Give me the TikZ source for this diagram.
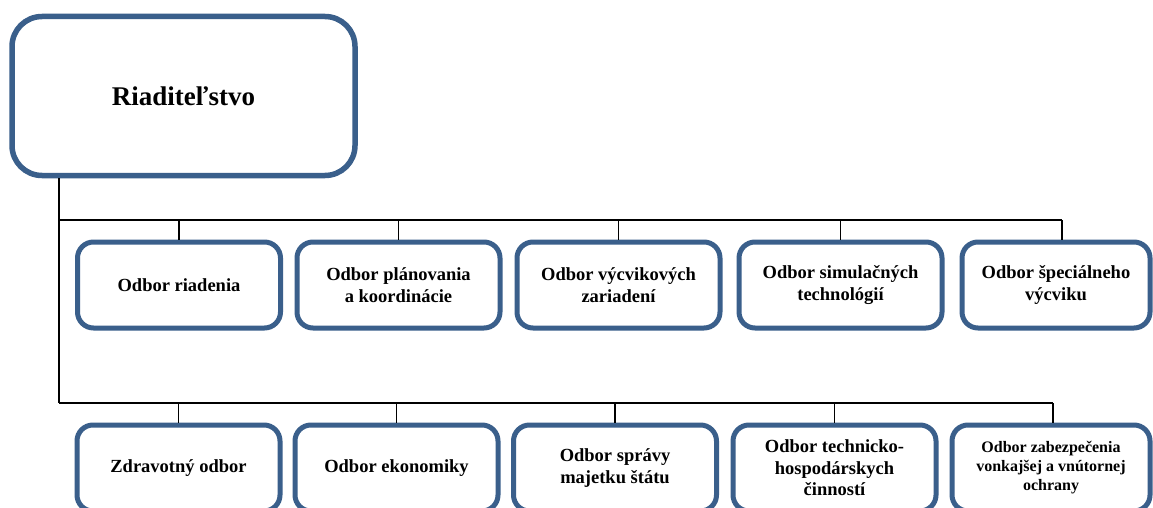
\documentclass[tikz,border=0pt]{standalone}
\usepackage{fontspec}
\setmainfont{Liberation Serif}
\definecolor{boxblue}{HTML}{3A5F8B}
\begin{document}
\begin{tikzpicture}[x=1pt,y=-1pt,
  box/.style={draw=boxblue, line width=5pt, rounded corners=16pt, fill=white,
    minimum width=203pt, minimum height=86pt, align=center, inner sep=2pt,
    font=\fontsize{18.5}{21.5}\selectfont\bfseries},
  bigbox/.style={draw=boxblue, line width=5.5pt, rounded corners=30pt, fill=white,
    minimum width=343pt, minimum height=159pt, align=center,
    font=\fontsize{27}{32}\selectfont\bfseries},
  conn/.style={draw=black, line width=1.4pt},
  bus/.style={draw=black, line width=2pt}]
\useasboundingbox (0,0) rectangle (1153,508);
\clip (0,0) rectangle (1153,508);
\fill[white] (0,0) rectangle (1153,508);

% junctions
\coordinate (j1) at (59,220);
\coordinate (j2) at (59,403);
\coordinate (e1) at (1062,220);
\coordinate (e2) at (1053,403);

% top box
\node[bigbox] (top) at (183.5,96) {Riaditeľstvo};

% row 1
\node[box] (a1) at (179,285) {Odbor riadenia};
\node[box] (a2) at (398.5,285) {Odbor plánovania\\a koordinácie};
\node[box] (a3) at (618.5,285) {Odbor výcvikových\\zariadení};
\node[box] (a4) at (840.5,285) {Odbor simulačných\\technológií};
\node[box, minimum width=188pt] (a5) at (1056,285) {Odbor špeciálneho\\výcviku};

% row 2
\node[box] (b1) at (178.5,468) {Zdravotný odbor};
\node[box] (b2) at (396.5,468) {Odbor ekonomiky};
\node[box] (b3) at (615,468) {Odbor správy\\majetku štátu};
\node[box] (b4) at (834.5,468) {Odbor technicko-\\hospodárskych\\činností};
\node[box, minimum width=198pt, font=\fontsize{16}{19}\selectfont\bfseries] (b5) at (1051,468) {Odbor zabezpečenia\\vonkajšej a vnútornej\\ochrany};

% trunk and buses
\draw[conn] (top.south -| j1) -- (j2);
\draw[bus] (j1) -- (e1);
\draw[bus] (j2) -- (e2);

% drops row 1
\draw[conn] (j1 -| a1.north) -- (a1.north);
\draw[conn] (j1 -| a2.north) -- (a2.north);
\draw[conn] (j1 -| a3.north) -- (a3.north);
\draw[conn] (j1 -| a4.north) -- (a4.north);
\draw[conn] (e1) -- (e1 |- a5.north);

% drops row 2
\draw[conn] (j2 -| b1.north) -- (b1.north);
\draw[conn] (j2 -| b2.north) -- (b2.north);
\draw[conn] (j2 -| b3.north) -- (b3.north);
\draw[conn] (j2 -| b4.north) -- (b4.north);
\draw[conn] (e2) -- (e2 |- b5.north);
\end{tikzpicture}
\end{document}
